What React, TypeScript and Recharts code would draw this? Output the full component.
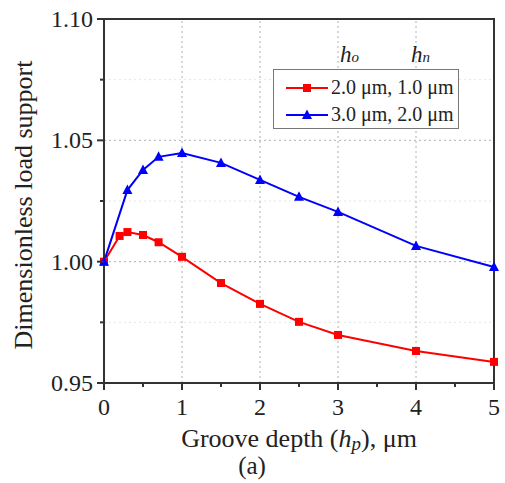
import {
  LineChart,
  Line,
  XAxis,
  YAxis,
  ReferenceLine,
  ReferenceArea,
} from "recharts";

const redX = [0, 0.2, 0.3, 0.5, 0.7, 1, 1.5, 2, 2.5, 3, 4, 5];
const redY = [1.0, 1.0106, 1.0122, 1.011, 1.008, 1.002, 0.9912, 0.9826, 0.9752, 0.9698, 0.9632, 0.9587];
const blueX = [0, 0.3, 0.5, 0.7, 1, 1.5, 2, 2.5, 3, 4, 5];
const blueY = [1.0, 1.0295, 1.0378, 1.0432, 1.0448, 1.0407, 1.0337, 1.0267, 1.0205, 1.0065, 0.9978];

const xTicks = [0, 0.5, 1, 1.5, 2, 2.5, 3, 3.5, 4, 4.5, 5];
const yTicks = [0.95, 0.975, 1.0, 1.025, 1.05, 1.075, 1.1];
const xGrid = [1, 2, 3, 4];
const yGridMajor = [1.0, 1.05];
const yGridMinor = [0.975, 1.025, 1.075];

const redData = redX.map((x, i) => ({ x, y: redY[i] }));
const blueData = blueX.map((x, i) => ({ x, y: blueY[i] }));

const FONT = "'Liberation Serif', 'DejaVu Serif', serif";
const AXIS = "#333";

function XTick(props: any) {
  const { x, y, payload } = props;
  const v = payload.value;
  const major = Number.isInteger(v);
  return (
    <g>
      <line x1={x} x2={x} y1={y} y2={y + (major ? 7 : 4)} stroke={AXIS} strokeWidth={2} />
      {major && (
        <text x={x} y={y + 32} textAnchor="middle" fontSize={24} fontFamily={FONT} fill="#222">
          {v}
        </text>
      )}
    </g>
  );
}

function YTick(props: any) {
  const { x, y, payload } = props;
  const v = payload.value;
  const major = Math.round(v * 1000) % 50 === 0;
  return (
    <g>
      <line x1={x} x2={x - (major ? 7 : 4)} y1={y} y2={y} stroke={AXIS} strokeWidth={2} />
      {major && (
        <text x={x - 11} y={y + 8} textAnchor="end" fontSize={24} fontFamily={FONT} fill="#222">
          {v.toFixed(2)}
        </text>
      )}
    </g>
  );
}

function Square(props: any) {
  const { cx, cy, index } = props;
  return <rect key={`s${index}`} x={cx - 4} y={cy - 4} width={8} height={8} fill="#ff0000" />;
}

function Tri(props: any) {
  const { cx, cy, index } = props;
  return (
    <polygon
      key={`t${index}`}
      points={`${cx},${cy - 5.5} ${cx - 5},${cy + 4} ${cx + 5},${cy + 4}`}
      fill="#0000ff"
    />
  );
}

function LegendMark({ color, tri }: { color: string; tri: boolean }) {
  return (
    <svg width={42} height={14} style={{ display: "block", flexShrink: 0 }}>
      <line x1={0} x2={42} y1={7} y2={7} stroke={color} strokeWidth={2} />
      {tri ? (
        <polygon points="21,1.5 16,11 26,11" fill={color} />
      ) : (
        <rect x={17} y={3} width={8} height={8} fill={color} />
      )}
    </svg>
  );
}

export default function App() {
  return (
    <div style={{ position: "absolute", left: 0, top: 0, width: 505, height: 483, background: "#fff" }}>
      <LineChart width={505} height={483} margin={{ top: 19, right: 11, bottom: 0, left: 0 }}>
        {yGridMinor.map((v) => (
          <ReferenceLine key={`ym${v}`} y={v} stroke="#e4e4e4" strokeDasharray="2 3" />
        ))}
        {yGridMajor.map((v) => (
          <ReferenceLine key={`y${v}`} y={v} stroke="#b0b0b0" strokeDasharray="2 3" />
        ))}
        {xGrid.map((v) => (
          <ReferenceLine key={`x${v}`} x={v} stroke="#b0b0b0" strokeDasharray="2 3" />
        ))}
        <XAxis
          dataKey="x"
          type="number"
          domain={[0, 5]}
          ticks={xTicks}
          interval={0}
          height={100}
          tickSize={0}
          tickMargin={0}
          tickLine={false}
          axisLine={{ stroke: AXIS, strokeWidth: 2 }}
          tick={<XTick />}
          allowDuplicatedCategory={false}
          label={(p: any) => {
            const vb = p.viewBox;
            const cx = vb.x + vb.width / 2;
            return (
              <g>
                <text x={cx} y={vb.y + 64} textAnchor="middle" fontSize={26} fontFamily={FONT} fill="#222">
                  Groove depth (<tspan fontStyle="italic">h</tspan>
                  <tspan fontStyle="italic" fontSize={19} dy={3}>p</tspan>
                  <tspan dy={-3}>), μm</tspan>
                </text>
                <text x={cx - 47} y={vb.y + 91} textAnchor="middle" fontSize={25} fontFamily={FONT} fill="#222">
                  (a)
                </text>
              </g>
            );
          }}
        />
        <YAxis
          type="number"
          domain={[0.95, 1.1]}
          ticks={yTicks}
          interval={0}
          width={104}
          tickSize={0}
          tickMargin={0}
          tickLine={false}
          axisLine={{ stroke: AXIS, strokeWidth: 2 }}
          tick={<YTick />}
          label={(p: any) => {
            const vb = p.viewBox;
            const cy = vb.y + vb.height / 2 + 4;
            return (
              <text
                x={32}
                y={cy}
                transform={`rotate(-90 32 ${cy})`}
                textAnchor="middle"
                fontSize={26}
                fontFamily={FONT}
                fill="#222"
              >
                Dimensionless load support
              </text>
            );
          }}
        />
        <ReferenceArea x1={0} x2={5} y1={0.95} y2={1.1} fill="none" stroke={AXIS} strokeWidth={2} />
        <Line
          data={redData}
          dataKey="y"
          stroke="#ff0000"
          strokeWidth={2}
          dot={Square}
          activeDot={false}
          isAnimationActive={false}
        />
        <Line
          data={blueData}
          dataKey="y"
          stroke="#0000ff"
          strokeWidth={2}
          dot={Tri}
          activeDot={false}
          isAnimationActive={false}
        />
      </LineChart>
      <div style={{ position: "absolute", left: 340, top: 42, fontFamily: FONT, fontSize: 23, fontStyle: "italic", color: "#222" }}>
        h<span style={{ fontSize: 15 }}>o</span>
      </div>
      <div style={{ position: "absolute", left: 411, top: 42, fontFamily: FONT, fontSize: 23, fontStyle: "italic", color: "#222" }}>
        h<span style={{ fontSize: 15 }}>n</span>
      </div>
      <div
        style={{
          position: "absolute",
          left: 273,
          top: 69,
          width: 184,
          height: 58,
          border: "1.5px solid #777",
          background: "#fff",
          fontFamily: FONT,
          fontSize: 20,
          color: "#222",
        }}
      >
        <div style={{ display: "flex", alignItems: "center", position: "absolute", left: 12, top: 6, whiteSpace: "nowrap" }}>
          <LegendMark color="#ff0000" tri={false} />
          <span style={{ marginLeft: 3 }}>2.0 μm, 1.0 μm</span>
        </div>
        <div style={{ display: "flex", alignItems: "center", position: "absolute", left: 12, top: 33, whiteSpace: "nowrap" }}>
          <LegendMark color="#0000ff" tri={true} />
          <span style={{ marginLeft: 3 }}>3.0 μm, 2.0 μm</span>
        </div>
      </div>
    </div>
  );
}
